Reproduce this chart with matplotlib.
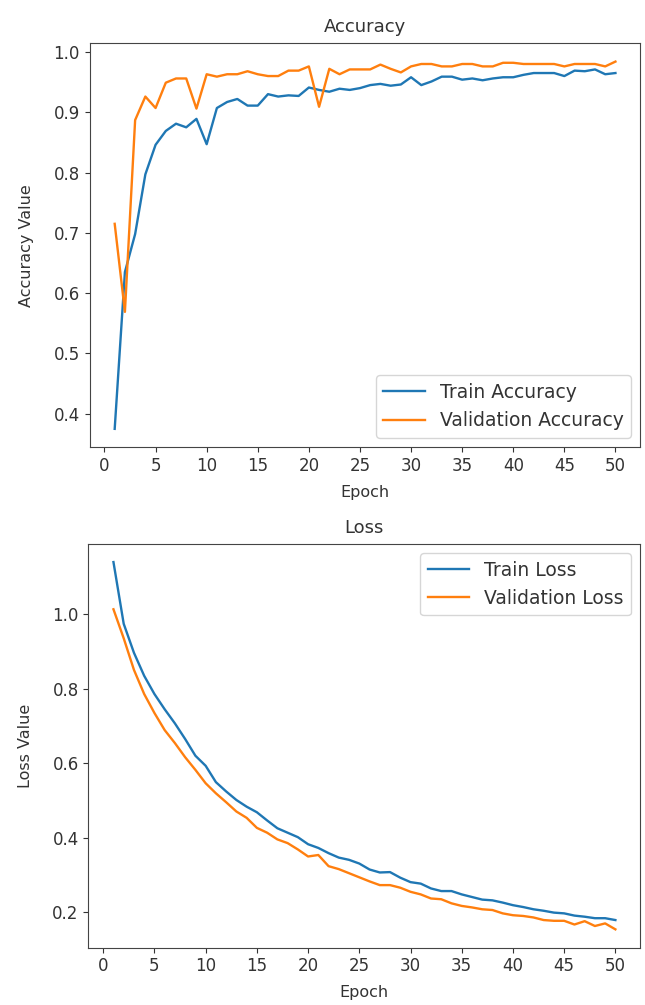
import matplotlib
matplotlib.use("Agg")
import matplotlib.pyplot as plt

# values
epochs = list(range(1, 51))

train_acc = [0.375, 0.635, 0.698, 0.797, 0.846, 0.869, 0.881, 0.875, 0.889, 0.847,
             0.907, 0.917, 0.922, 0.911, 0.911, 0.930, 0.926, 0.928, 0.927, 0.941,
             0.937, 0.934, 0.939, 0.937, 0.940, 0.945, 0.947, 0.944, 0.946, 0.958,
             0.945, 0.951, 0.959, 0.959, 0.954, 0.956, 0.953, 0.956, 0.958, 0.958,
             0.962, 0.965, 0.965, 0.965, 0.960, 0.969, 0.968, 0.971, 0.963, 0.965]

val_acc = [0.715, 0.569, 0.887, 0.926, 0.907, 0.949, 0.956, 0.956, 0.906, 0.963,
           0.959, 0.963, 0.963, 0.968, 0.963, 0.960, 0.960, 0.969, 0.969, 0.976,
           0.909, 0.972, 0.963, 0.971, 0.971, 0.971, 0.979, 0.972, 0.966, 0.976,
           0.980, 0.980, 0.976, 0.976, 0.980, 0.980, 0.976, 0.976, 0.982, 0.982,
           0.980, 0.980, 0.980, 0.980, 0.976, 0.980, 0.980, 0.980, 0.976, 0.984]

train_loss = [1.141, 0.975, 0.897, 0.835, 0.786, 0.745, 0.707, 0.665, 0.620, 0.593,
              0.549, 0.524, 0.501, 0.483, 0.468, 0.446, 0.425, 0.413, 0.401, 0.382,
              0.372, 0.358, 0.346, 0.340, 0.330, 0.314, 0.306, 0.307, 0.292, 0.280,
              0.276, 0.263, 0.256, 0.256, 0.247, 0.240, 0.233, 0.231, 0.225, 0.218,
              0.213, 0.207, 0.203, 0.198, 0.196, 0.190, 0.187, 0.183, 0.183, 0.178]

val_loss = [1.014, 0.936, 0.851, 0.786, 0.735, 0.689, 0.654, 0.616, 0.582, 0.546,
            0.519, 0.495, 0.470, 0.453, 0.426, 0.413, 0.395, 0.385, 0.368, 0.349,
            0.353, 0.323, 0.315, 0.304, 0.293, 0.282, 0.272, 0.272, 0.265, 0.254,
            0.247, 0.236, 0.234, 0.223, 0.216, 0.212, 0.207, 0.205, 0.196, 0.191,
            0.189, 0.185, 0.178, 0.176, 0.176, 0.166, 0.175, 0.162, 0.169, 0.153]

plt.rcParams["font.size"] = 11.5
plt.rcParams["xtick.labelsize"] = 12
plt.rcParams["ytick.labelsize"] = 12
plt.rcParams["text.color"] = "#333333"
plt.rcParams["axes.labelcolor"] = "#333333"
plt.rcParams["xtick.color"] = "#333333"
plt.rcParams["ytick.color"] = "#333333"

fig = plt.figure(figsize=(6.45, 10.05), dpi=100)
ax1 = fig.add_axes([0.139, 0.555, 0.854, 0.402])
ax2 = fig.add_axes([0.137, 0.057, 0.856, 0.402])

# accuracy
ax1.plot(epochs, train_acc, lw=1.7, label="Train Accuracy")
ax1.plot(epochs, val_acc, lw=1.7, label="Validation Accuracy")
ax1.set_title("Accuracy", fontsize=13, pad=8)
ax1.set_xlabel("Epoch", labelpad=7)
ax1.set_ylabel("Accuracy Value", labelpad=14)
ax1.set_xticks(range(0, 51, 5))
ax1.legend(loc="lower right", fontsize=13.5, handlelength=2.2)

# loss
ax2.plot(epochs, train_loss, lw=1.7, label="Train Loss")
ax2.plot(epochs, val_loss, lw=1.7, label="Validation Loss")
ax2.set_title("Loss", fontsize=13, pad=8)
ax2.set_xlabel("Epoch", labelpad=7)
ax2.set_ylabel("Loss Value", labelpad=14)
ax2.set_xticks(range(0, 51, 5))
ax2.legend(loc="upper right", fontsize=13.5, handlelength=2.2)

for ax in (ax1, ax2):
    for s in ax.spines.values():
        s.set_color("#444444")

fig.savefig("out.png", dpi=100)
